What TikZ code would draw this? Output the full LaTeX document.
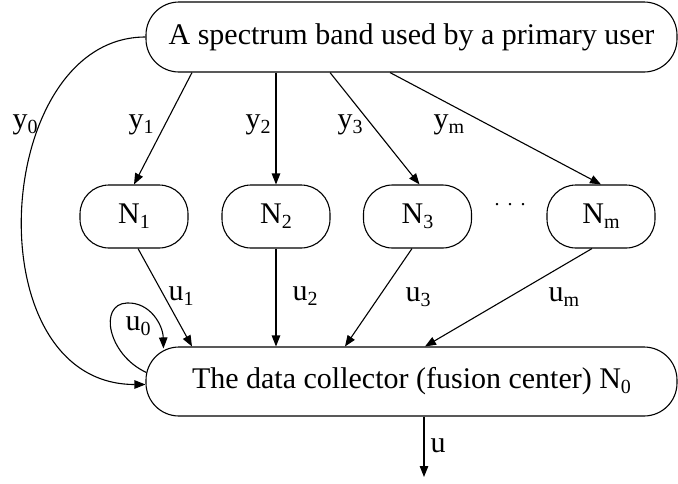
\documentclass[tikz,border=0pt]{standalone}
\usepackage{fontspec}
\setmainfont{Liberation Serif}
\usetikzlibrary{arrows.meta}
\newcommand\sbs[1]{\raisebox{-5pt}{\fontsize{20}{20}\selectfont #1}}
\begin{document}
\begin{tikzpicture}[x=1pt,y=-1pt,
  font=\fontsize{30}{34}\selectfont,
  every path/.style={line width=1.1pt},
  bigbox/.style={draw,rounded corners=33pt,minimum width=531pt,minimum height=70pt,inner sep=0pt},
  smallbox/.style={draw,rounded corners=29pt,minimum width=108pt,minimum height=63pt,inner sep=0pt},
  arr/.style={-{Triangle[length=11pt,width=8.5pt]}},
  lbl/.style={anchor=base west,inner sep=0pt}]
\useasboundingbox (0,0) rectangle (678,483);
\node[bigbox] (top) at (411.5,37) {A spectrum band used by a primary user};
\node[bigbox,minimum height=69pt] (bot) at (411.5,381.5) {The data collector (fusion center) N\sbs{0}};
\node[smallbox] (n1) at (134,216.5) {N\sbs{1}};
\node[smallbox] (n2) at (276,216.5) {N\sbs{2}};
\node[smallbox] (n3) at (417.5,216.5) {N\sbs{3}};
\node[smallbox] (nm) at (601,216.5) {N\sbs{m}};
\node[inner sep=0pt,font=\fontsize{20}{20}\selectfont] (dots) at (510,205) {.\hspace{8pt}.\hspace{8pt}.};
\coordinate (out) at (424,477);
% arrows from top
\draw[arr] ([xshift=-219.5pt]top.south) -- (n1.north);
\draw[arr] ([xshift=-135.5pt]top.south) -- (n2.north);
\draw[arr] ([xshift=-81.5pt]top.south) -- ([xshift=2pt]n3.north);
\draw[arr] ([xshift=-21.5pt]top.south) -- (nm.north);
% arrows to bottom
\draw[arr] ([xshift=4pt]n1.south) -- ([xshift=-219.5pt]bot.north);
\draw[arr] (n2.south) -- ([xshift=-135.5pt]bot.north);
\draw[arr] ([xshift=-5.5pt]n3.south) -- ([xshift=-66.5pt]bot.north);
\draw[arr] ([xshift=-9pt]nm.south) -- ([xshift=13.5pt]bot.north);
\draw[arr] ([xshift=12.5pt]bot.south) -- (out);
% y0 curve
\draw[arr] (top.west) .. controls (-8,37) and (-28,384.5) .. ([yshift=-3pt]bot.west);
% u0 loop
\draw[arr] ([xshift=1pt,yshift=9pt]bot.west) .. controls (108,355) and (98,304) .. (127,303) .. controls (150,302) and (163,325) .. ([xshift=18pt,yshift=-2pt]bot.north west);
% labels
\node[lbl] (ly0) at (12,128) {y\sbs{0}};
\node[lbl] (ly1) at (128,128) {y\sbs{1}};
\node[lbl] (ly2) at (245,128) {y\sbs{2}};
\node[lbl] (ly3) at (337,128) {y\sbs{3}};
\node[lbl] (lym) at (433,128) {y\sbs{m}};
\node[lbl] (lu0) at (125,330) {u\sbs{0}};
\node[lbl] (lu1) at (168,300) {u\sbs{1}};
\node[lbl] (lu2) at (292,300) {u\sbs{2}};
\node[lbl] (lu3) at (405,301) {u\sbs{3}};
\node[lbl] (lum) at (548,301) {u\sbs{m}};
\node[lbl] (lu) at (430,452) {u};
\end{tikzpicture}
\end{document}
